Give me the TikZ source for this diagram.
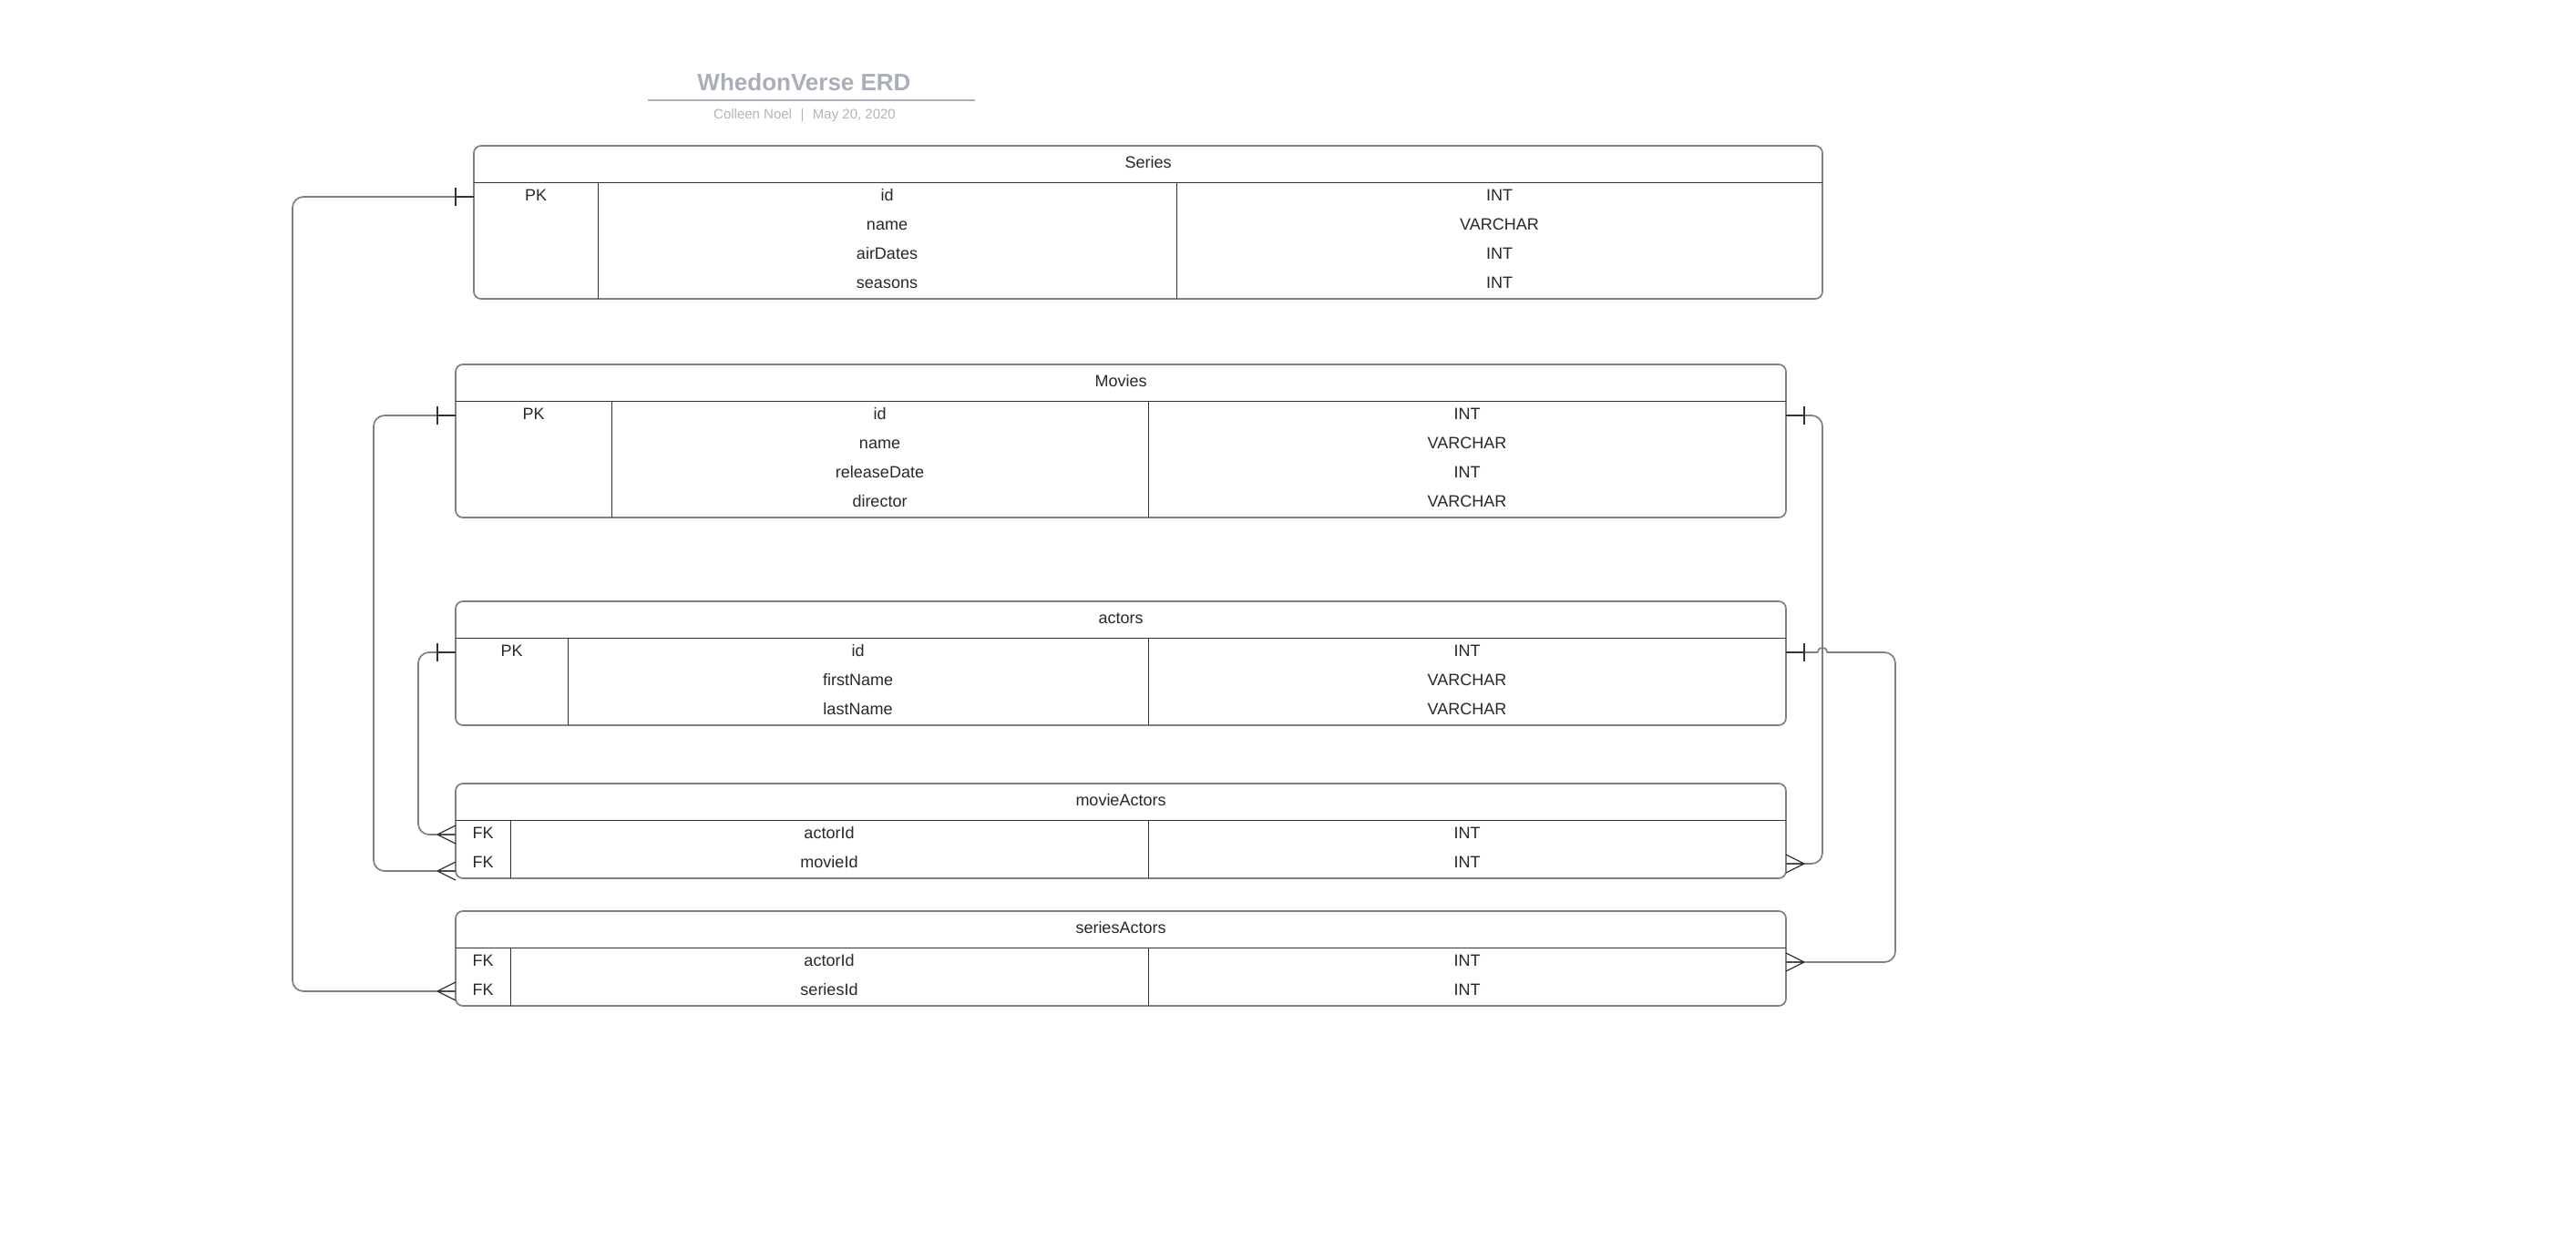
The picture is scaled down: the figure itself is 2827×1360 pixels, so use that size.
\documentclass[tikz,border=0pt]{standalone}
\usepackage{fontspec}
\setmainfont{Liberation Sans}
\usetikzlibrary{calc}

\definecolor{titlegray}{RGB}{169,174,184}
\definecolor{subgray}{RGB}{176,180,189}
\definecolor{textdark}{RGB}{40,40,40}
\definecolor{bordergray}{RGB}{128,128,128}
\definecolor{gridcol}{RGB}{51,51,51}
\definecolor{conncol}{RGB}{128,128,128}

\begin{document}
\begin{tikzpicture}[x=1pt,y=-1pt,
  tbl/.style={draw=bordergray, line width=1.7pt, rounded corners=8pt, fill=white,
              inner sep=0pt, outer sep=0pt, anchor=north west},
  gridline/.style={draw=gridcol, line width=1pt},
  cell/.style={font=\fontsize{18}{20}\selectfont, text=textdark, inner sep=0pt,
               text height=13pt, text depth=5pt, anchor=center},
  conn/.style={draw=conncol, line width=1.7pt, rounded corners=12pt},
  hopline/.style={draw=conncol, line width=1.7pt},
  endmark/.style={draw=gridcol, line width=1.2pt}]

\fill[white] (0,0) rectangle (2827,1360);
\useasboundingbox (0,0) rectangle (2827,1360);

% ---- title block ----
\node[font=\fontsize{26}{30}\selectfont\bfseries, text=titlegray, anchor=base, inner sep=0pt]
  (title) at (882.5,99.3) {WhedonVerse ERD};
\draw[titlegray, line width=2pt] (711,110) -- (1070,110);
\node[font=\fontsize{15}{18}\selectfont, text=subgray, anchor=base, inner sep=0pt]
  (subtitle) at (883,130.7) {Colleen Noel\hspace{9.5pt}|\hspace{9.5pt}May 20, 2020};

% ---- Series ----
\node[tbl, minimum width=1480pt, minimum height=168pt] (series) at (520,160) {};
\draw[gridline] (520,200) -- (2000,200) (656,200) -- (656,328) (1291,200) -- (1291,328);
\node[cell] (s-h) at (1260,180) {Series};
\node[cell] (s-pk) at (588,216) {PK};
\node[cell] (s-c1) at (973.5,216) {id};
\node[cell] (s-c2) at (973.5,248) {name};
\node[cell] (s-c3) at (973.5,280) {airDates};
\node[cell] (s-c4) at (973.5,312) {seasons};
\node[cell] (s-t1) at (1645.5,216) {INT};
\node[cell] (s-t2) at (1645.5,248) {VARCHAR};
\node[cell] (s-t3) at (1645.5,280) {INT};
\node[cell] (s-t4) at (1645.5,312) {INT};

% ---- Movies ----
\node[tbl, minimum width=1460pt, minimum height=168pt] (movies) at (500,400) {};
\draw[gridline] (500,440) -- (1960,440) (671,440) -- (671,568) (1260,440) -- (1260,568);
\node[cell] (m-h) at (1230,420) {Movies};
\node[cell] (m-pk) at (585.5,456) {PK};
\node[cell] (m-c1) at (965.5,456) {id};
\node[cell] (m-c2) at (965.5,488) {name};
\node[cell] (m-c3) at (965.5,520) {releaseDate};
\node[cell] (m-c4) at (965.5,552) {director};
\node[cell] (m-t1) at (1610,456) {INT};
\node[cell] (m-t2) at (1610,488) {VARCHAR};
\node[cell] (m-t3) at (1610,520) {INT};
\node[cell] (m-t4) at (1610,552) {VARCHAR};

% ---- actors ----
\node[tbl, minimum width=1460pt, minimum height=136pt] (actors) at (500,660) {};
\draw[gridline] (500,700) -- (1960,700) (623,700) -- (623,796) (1260,700) -- (1260,796);
\node[cell] (a-h) at (1230,680) {actors};
\node[cell] (a-pk) at (561.5,716) {PK};
\node[cell] (a-c1) at (941.5,716) {id};
\node[cell] (a-c2) at (941.5,748) {firstName};
\node[cell] (a-c3) at (941.5,780) {lastName};
\node[cell] (a-t1) at (1610,716) {INT};
\node[cell] (a-t2) at (1610,748) {VARCHAR};
\node[cell] (a-t3) at (1610,780) {VARCHAR};

% ---- movieActors ----
\node[tbl, minimum width=1460pt, minimum height=104pt] (ma) at (500,860) {};
\draw[gridline] (500,900) -- (1960,900) (560,900) -- (560,964) (1260,900) -- (1260,964);
\node[cell] (ma-h) at (1230,880) {movieActors};
\node[cell] (ma-fk1) at (530,916) {FK};
\node[cell] (ma-fk2) at (530,948) {FK};
\node[cell] (ma-c1) at (910,916) {actorId};
\node[cell] (ma-c2) at (910,948) {movieId};
\node[cell] (ma-t1) at (1610,916) {INT};
\node[cell] (ma-t2) at (1610,948) {INT};

% ---- seriesActors ----
\node[tbl, minimum width=1460pt, minimum height=104pt] (sa) at (500,1000) {};
\draw[gridline] (500,1040) -- (1960,1040) (560,1040) -- (560,1104) (1260,1040) -- (1260,1104);
\node[cell] (sa-h) at (1230,1020) {seriesActors};
\node[cell] (sa-fk1) at (530,1056) {FK};
\node[cell] (sa-fk2) at (530,1088) {FK};
\node[cell] (sa-c1) at (910,1056) {actorId};
\node[cell] (sa-c2) at (910,1088) {seriesId};
\node[cell] (sa-t1) at (1610,1056) {INT};
\node[cell] (sa-t2) at (1610,1088) {INT};

% ---- relationship end points ----
\coordinate (maMovieW) at ($(ma.west |- ma-fk2)+(0,8)$);
\coordinate (hopL) at ($(actors.east |- a-pk)+(35,0)$);
\coordinate (hopR) at ($(actors.east |- a-pk)+(45,0)$);

% ---- connectors, left side ----
\draw[conn] (series.west |- s-pk) -- ++(-199,0) |- (sa.west |- sa-fk2);
\draw[conn] (movies.west |- m-pk) -- ++(-90,0) |- (maMovieW);
\draw[conn] (actors.west |- a-pk) -- ++(-41,0) |- (ma.west |- ma-fk1);

% ---- connectors, right side ----
\draw[conn] (movies.east |- m-pk) -- ++(40,0) |- (ma.east |- ma-fk2);
\draw[hopline] (actors.east |- a-pk) -- (hopL);
\draw[hopline] (hopL) .. controls ($(hopL)+(0,-7)$) and ($(hopR)+(0,-7)$) .. (hopR);
\draw[conn] (hopR) -- ++(75,0) |- (sa.east |- sa-fk1);

% ---- "one" ticks ----
\draw[endmark] (series.west |- s-pk) ++(-20,-10) -- ++(0,20);
\draw[endmark] (series.west |- s-pk) -- ++(-20,0);
\draw[endmark] (movies.west |- m-pk) ++(-20,-10) -- ++(0,20);
\draw[endmark] (movies.west |- m-pk) -- ++(-20,0);
\draw[endmark] (actors.west |- a-pk) ++(-20,-10) -- ++(0,20);
\draw[endmark] (actors.west |- a-pk) -- ++(-20,0);
\draw[endmark] (movies.east |- m-pk) ++(20,-10) -- ++(0,20);
\draw[endmark] (movies.east |- m-pk) -- ++(20,0);
\draw[endmark] (actors.east |- a-pk) ++(20,-10) -- ++(0,20);
\draw[endmark] (actors.east |- a-pk) -- ++(20,0);

% ---- "many" crow's feet ----
\draw[endmark] (sa.west |- sa-fk2) ++(-20,0) -- ++(20,-10)
               (sa.west |- sa-fk2) ++(-20,0) -- ++(20,0)
               (sa.west |- sa-fk2) ++(-20,0) -- ++(20,10);
\draw[endmark] (maMovieW) ++(-20,0) -- ++(20,-10)
               (maMovieW) ++(-20,0) -- ++(20,0)
               (maMovieW) ++(-20,0) -- ++(20,10);
\draw[endmark] (ma.west |- ma-fk1) ++(-20,0) -- ++(20,-10)
               (ma.west |- ma-fk1) ++(-20,0) -- ++(20,0)
               (ma.west |- ma-fk1) ++(-20,0) -- ++(20,10);
\draw[endmark] (ma.east |- ma-fk2) ++(20,0) -- ++(-20,-10)
               (ma.east |- ma-fk2) ++(20,0) -- ++(-20,0)
               (ma.east |- ma-fk2) ++(20,0) -- ++(-20,10);
\draw[endmark] (sa.east |- sa-fk1) ++(20,0) -- ++(-20,-10)
               (sa.east |- sa-fk1) ++(20,0) -- ++(-20,0)
               (sa.east |- sa-fk1) ++(20,0) -- ++(-20,10);
\end{tikzpicture}
\end{document}
